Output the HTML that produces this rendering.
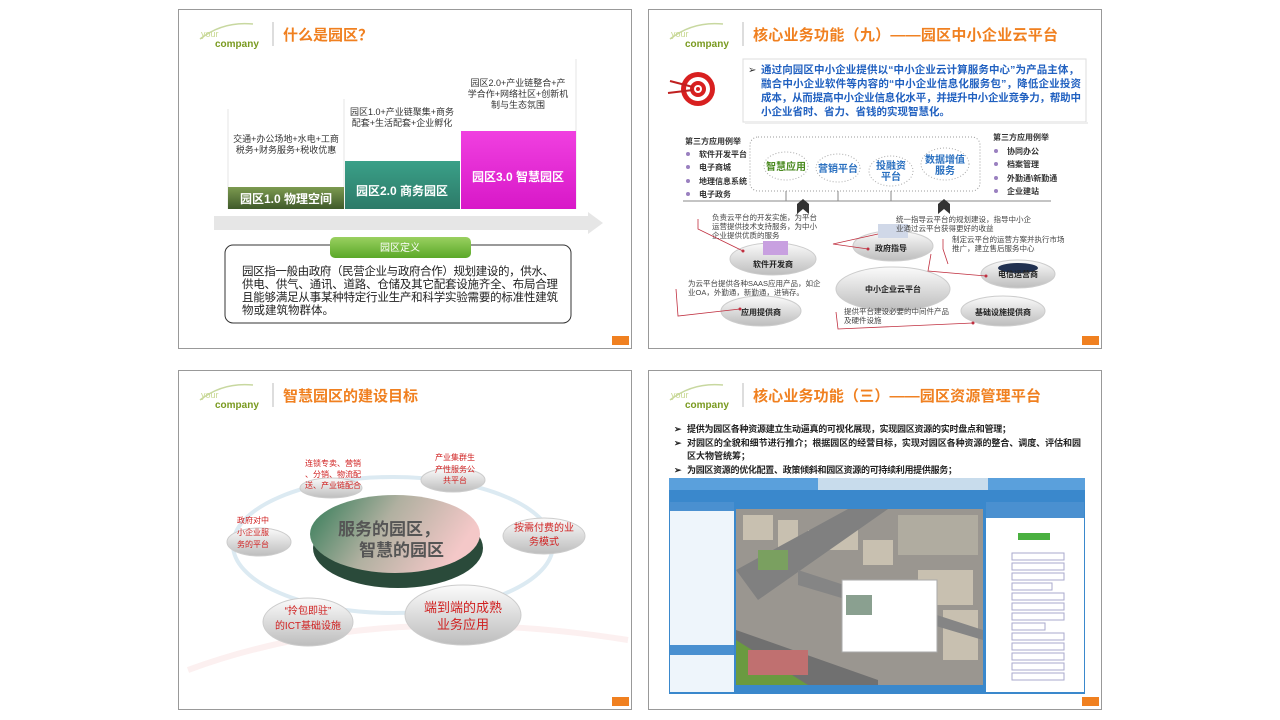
<!DOCTYPE html>
<html><head><meta charset="utf-8"><style>
html,body{margin:0;padding:0;background:#fff;width:1280px;height:720px;overflow:hidden}
svg{display:block}
text{font-family:"Liberation Sans","Noto Sans CJK SC",sans-serif}
</style></head><body>
<svg width="1280" height="720" viewBox="0 0 1280 720" xmlns="http://www.w3.org/2000/svg">
<defs>
<linearGradient id="g1" x1="0" y1="0" x2="0" y2="1"><stop offset="0" stop-color="#7c9a50"/><stop offset="1" stop-color="#3f5a2a"/></linearGradient>
<linearGradient id="g2" x1="0" y1="0" x2="0" y2="1"><stop offset="0" stop-color="#3aa088"/><stop offset="1" stop-color="#2d7a68"/></linearGradient>
<linearGradient id="g3" x1="0" y1="0" x2="0" y2="1"><stop offset="0" stop-color="#f040e0"/><stop offset="1" stop-color="#d818c8"/></linearGradient>
<linearGradient id="gt" x1="0" y1="0" x2="0" y2="1"><stop offset="0" stop-color="#9ad060"/><stop offset="1" stop-color="#5aa828"/></linearGradient>
<linearGradient id="ge" x1="0" y1="0" x2="0" y2="1"><stop offset="0" stop-color="#fbfbfb"/><stop offset="1" stop-color="#bdbdbd"/></linearGradient>
<linearGradient id="gc" x1="0" y1="0" x2="1" y2="0.3"><stop offset="0" stop-color="#2f7a55"/><stop offset="0.5" stop-color="#b0b0a0"/><stop offset="1" stop-color="#f4c8c8"/></linearGradient>
<g id="logo"><path d="M22 30 Q45 12 75 15" stroke="#c8d8a0" stroke-width="1.5" fill="none"/><text x="23" y="28" font-size="9" fill="#c8d890">your</text><text x="37" y="38" font-size="10" font-weight="bold" fill="#7a9a20">company</text><line x1="95" y1="13" x2="95" y2="37" stroke="#bbb"/></g>
</defs>

<!-- Slide 1 -->
<g transform="translate(178,9)">
<rect x="0.5" y="0.5" width="453" height="339" fill="#fff" stroke="#999"/>
<use href="#logo"/>
<text x="105" y="31" font-size="15" font-weight="bold" fill="#f08020">什么是园区？</text>
<line x1="50" y1="100" x2="50" y2="200" stroke="#e4e4e4"/><line x1="166" y1="90" x2="166" y2="200" stroke="#e4e4e4"/><line x1="398" y1="50" x2="398" y2="200" stroke="#e4e4e4"/>
<text x="108" y="133" font-size="9" fill="#333" text-anchor="middle">交通+办公场地+水电+工商</text>
<text x="108" y="144" font-size="9" fill="#333" text-anchor="middle">税务+财务服务+税收优惠</text>
<text x="224" y="106" font-size="9" fill="#333" text-anchor="middle">园区1.0+产业链聚集+商务</text>
<text x="224" y="117" font-size="9" fill="#333" text-anchor="middle">配套+生活配套+企业孵化</text>
<text x="340" y="77" font-size="9" fill="#333" text-anchor="middle">园区2.0+产业链整合+产</text>
<text x="340" y="88" font-size="9" fill="#333" text-anchor="middle">学合作+网络社区+创新机</text>
<text x="340" y="99" font-size="9" fill="#333" text-anchor="middle">制与生态氛围</text>
<rect x="50" y="178" width="116" height="22" fill="url(#g1)"/>
<rect x="167" y="152" width="115" height="48" fill="url(#g2)"/>
<rect x="283" y="122" width="115" height="78" fill="url(#g3)"/>
<text x="108" y="194" font-size="12" font-weight="bold" fill="#fff" text-anchor="middle">园区1.0 物理空间</text>
<text x="224" y="186" font-size="12" font-weight="bold" fill="#fff" text-anchor="middle">园区2.0 商务园区</text>
<text x="340" y="172" font-size="12" font-weight="bold" fill="#fff" text-anchor="middle">园区3.0 智慧园区</text>
<polygon points="36,207 410,207 410,203 425,214 410,225 410,221 36,221" fill="#e6e6e6"/>
<rect x="47" y="236" width="346" height="78" rx="8" fill="#fff" stroke="#333"/>
<rect x="152" y="228" width="141" height="21" rx="5" fill="url(#gt)"/>
<text x="222" y="242" font-size="10" fill="#fff" text-anchor="middle">园区定义</text>
<text x="64" y="266" font-size="11.5" fill="#222" textLength="312">园区指一般由政府（民营企业与政府合作）规划建设的，供水、</text>
<text x="64" y="279" font-size="11.5" fill="#222" textLength="316">供电、供气、通讯、道路、仓储及其它配套设施齐全、布局合理</text>
<text x="64" y="292" font-size="11.5" fill="#222" textLength="316">且能够满足从事某种特定行业生产和科学实验需要的标准性建筑</text>
<text x="64" y="305" font-size="11.5" fill="#222">物或建筑物群体。</text>
<rect x="434" y="327" width="17" height="9" fill="#f08020"/>
</g>

<!-- Slide 2 -->
<g transform="translate(648,9)">
<rect x="0.5" y="0.5" width="453" height="339" fill="#fff" stroke="#999"/>
<use href="#logo"/>
<text x="105" y="31" font-size="15" font-weight="bold" fill="#f08020" textLength="305">核心业务功能（九）——园区中小企业云平台</text>
<circle cx="50" cy="80" r="17" fill="#d82020"/><circle cx="50" cy="80" r="12" fill="#fff"/><circle cx="50" cy="80" r="8" fill="#d82020"/><circle cx="50" cy="80" r="4" fill="#fff"/><circle cx="50" cy="80" r="2" fill="#d82020"/>
<line x1="22" y1="72" x2="45" y2="78" stroke="#c02020" stroke-width="2"/><line x1="20" y1="84" x2="45" y2="81" stroke="#c02020" stroke-width="2"/>
<rect x="95" y="50" width="343" height="63" fill="#fff" stroke="#ddd"/>
<rect x="97" y="113" width="343" height="2" fill="#eee"/>
<text x="100" y="64" font-size="10" fill="#333">➢</text>
<g font-size="10.5" font-weight="bold" fill="#2060c0">
<text x="113" y="64" textLength="318">通过向园区中小企业提供以“中小企业云计算服务中心”为产品主体，</text>
<text x="113" y="78" textLength="320">融合中小企业软件等内容的“中小企业信息化服务包”，降低企业投资</text>
<text x="113" y="92" textLength="320">成本，从而提高中小企业信息化水平，并提升中小企业竞争力，帮助中</text>
<text x="113" y="106">小企业省时、省力、省钱的实现智慧化。</text>
</g>
<g font-size="8" font-weight="bold" fill="#333">
<text x="37" y="135">第三方应用例举</text>
<text x="51" y="148">软件开发平台</text><text x="51" y="161">电子商城</text><text x="51" y="175">地理信息系统</text><text x="51" y="188">电子政务</text>
<text x="345" y="131">第三方应用例举</text>
<text x="359" y="145">协同办公</text><text x="359" y="158">档案管理</text><text x="359" y="172">外勤通\新勤通</text><text x="359" y="185">企业建站</text>
</g>
<g fill="#9a80c0"><circle cx="40" cy="145" r="2"/><circle cx="40" cy="158" r="2"/><circle cx="40" cy="172" r="2"/><circle cx="40" cy="185" r="2"/><circle cx="348" cy="142" r="2"/><circle cx="348" cy="155" r="2"/><circle cx="348" cy="169" r="2"/><circle cx="348" cy="182" r="2"/></g>
<rect x="102" y="128" width="230" height="54" rx="8" fill="none" stroke="#999" stroke-dasharray="1,2"/>
<g fill="none" stroke="#aaa" stroke-dasharray="1,2"><ellipse cx="138" cy="157" rx="22" ry="14"/><ellipse cx="190" cy="159" rx="22" ry="14"/><ellipse cx="243" cy="162" rx="22" ry="15"/><ellipse cx="297" cy="155" rx="24" ry="16"/></g>
<g font-size="10" font-weight="bold" text-anchor="middle">
<text x="138" y="161" fill="#4a8a20">智慧应用</text>
<text x="190" y="163" fill="#2a70c0">营销平台</text>
<text x="243" y="160" fill="#2a70c0">投融资</text><text x="243" y="171" fill="#2a70c0">平台</text>
<text x="297" y="154" fill="#2a70c0">数据增值</text><text x="297" y="165" fill="#2a70c0">服务</text>
</g>
<line x1="35" y1="192" x2="403" y2="192" stroke="#888"/>
<g stroke="#888"><line x1="138" y1="182" x2="138" y2="192"/><line x1="190" y1="182" x2="190" y2="192"/><line x1="243" y1="182" x2="243" y2="192"/></g>
<polygon points="149,205 149,195 155,190 161,195 161,205 155,200" fill="#333"/>
<polygon points="290,205 290,195 296,190 302,195 302,205 296,200" fill="#333"/>
<g fill="url(#ge)" stroke="#ccc">
<ellipse cx="125" cy="250" rx="43" ry="16"/><ellipse cx="245" cy="237" rx="40" ry="15"/><ellipse cx="370" cy="265" rx="37" ry="14"/>
<ellipse cx="245" cy="280" rx="57" ry="22"/><ellipse cx="113" cy="302" rx="40" ry="15"/><ellipse cx="355" cy="302" rx="42" ry="15"/>
</g>
<rect x="230" y="215" width="30" height="14" fill="#d0d8e8"/><rect x="115" y="232" width="25" height="14" fill="#c8a0e0"/><ellipse cx="370" cy="259" rx="20" ry="5" fill="#203050"/>
<g font-size="7.5" fill="#444">
<text x="64" y="211">负责云平台的开发实施，为平台</text><text x="64" y="220">运营提供技术支持服务，为中小</text><text x="64" y="229">企业提供优质的服务</text>
<text x="248" y="213">统一指导云平台的规划建设，指导中小企</text><text x="248" y="222">业通过云平台获得更好的收益</text>
<text x="304" y="233">制定云平台的运营方案并执行市场</text><text x="304" y="242">推广，建立售后服务中心</text>
<text x="40" y="277">为云平台提供各种SAAS应用产品，如企</text><text x="40" y="286">业OA，外勤通，新勤通，进销存。</text>
<text x="196" y="305">提供平台建设必要的中间件产品</text><text x="196" y="314">及硬件设施</text>
</g>
<g font-size="8" font-weight="bold" fill="#222" text-anchor="middle">
<text x="125" y="258">软件开发商</text><text x="243" y="242">政府指导</text><text x="245" y="283">中小企业云平台</text><text x="370" y="268">电信运营商</text><text x="355" y="306">基础设施提供商</text><text x="113" y="306">应用提供商</text>
</g>
<g fill="none" stroke="#c03040" stroke-width="0.8">
<polyline points="95,242 50,220 50,210"/><polyline points="92,300 30,307 28,280"/><polyline points="220,240 185,235 230,225"/>
<polyline points="300,255 295,240 295,230"/><polyline points="338,267 280,262 283,245"/><polyline points="325,314 190,320 188,303"/>
</g>
<g fill="#c03040"><circle cx="95" cy="242" r="1.5"/><circle cx="92" cy="300" r="1.5"/><circle cx="220" cy="240" r="1.5"/><circle cx="338" cy="267" r="1.5"/><circle cx="325" cy="314" r="1.5"/></g>
<rect x="434" y="327" width="17" height="9" fill="#f08020"/>
</g>

<!-- Slide 3 -->
<g transform="translate(178,370)">
<rect x="0.5" y="0.5" width="453" height="339" fill="#fff" stroke="#999"/>
<use href="#logo"/>
<text x="105" y="31" font-size="15" font-weight="bold" fill="#f08020">智慧园区的建设目标</text>
<path d="M10 300 Q200 230 450 270" stroke="#fcf0f0" stroke-width="6" fill="none"/>
<ellipse cx="215" cy="175" rx="160" ry="68" fill="none" stroke="#dceaf2" stroke-width="4"/>
<g fill="url(#ge)" stroke="#ccc">
<ellipse cx="153" cy="118" rx="31" ry="10"/><ellipse cx="275" cy="110" rx="32" ry="12"/><ellipse cx="81" cy="172" rx="32" ry="14"/>
<ellipse cx="366" cy="166" rx="41" ry="18"/><ellipse cx="130" cy="252" rx="45" ry="24"/><ellipse cx="285" cy="245" rx="58" ry="30"/>
</g>
<ellipse cx="220" cy="178" rx="85" ry="40" fill="#2a4a3a"/>
<ellipse cx="217" cy="164" rx="85" ry="39" fill="url(#gc)"/>
<text x="160" y="165" font-size="17" font-weight="bold" fill="#555">服务的园区，</text>
<text x="181" y="186" font-size="17" font-weight="bold" fill="#555">智慧的园区</text>
<g fill="#d02020" text-anchor="middle">
<g font-size="8"><text x="155" y="96">连锁专卖、营销</text><text x="155" y="107">、分销、物流配</text><text x="155" y="118">送、产业链配合</text>
<text x="277" y="90">产业集群生</text><text x="277" y="102">产性服务公</text><text x="277" y="113">共平台</text>
<text x="75" y="153">政府对中</text><text x="75" y="165">小企业服</text><text x="75" y="177">务的平台</text></g>
<g font-size="10"><text x="366" y="161">按需付费的业</text><text x="366" y="175">务模式</text>
<text x="130" y="244">“拎包即驻”</text><text x="130" y="259">的ICT基础设施</text></g>
<g font-size="13"><text x="285" y="242">端到端的成熟</text><text x="285" y="259">业务应用</text></g>
</g>
<rect x="434" y="327" width="17" height="9" fill="#f08020"/>
</g>

<!-- Slide 4 -->
<g transform="translate(648,370)">
<rect x="0.5" y="0.5" width="453" height="339" fill="#fff" stroke="#999"/>
<use href="#logo"/>
<text x="105" y="31" font-size="15" font-weight="bold" fill="#f08020" textLength="288">核心业务功能（三）——园区资源管理平台</text>
<g font-size="9" font-weight="bold" fill="#222">
<text x="26" y="62">➢</text><text x="26" y="76">➢</text><text x="26" y="103">➢</text>
<text x="39" y="62" textLength="324">提供为园区各种资源建立生动逼真的可视化展现，实现园区资源的实时盘点和管理；</text>
<text x="39" y="76" textLength="394">对园区的全貌和细节进行推介；根据园区的经营目标，实现对园区各种资源的整合、调度、评估和园</text>
<text x="39" y="89">区大物管统筹；</text>
<text x="39" y="103" textLength="270">为园区资源的优化配置、政策倾斜和园区资源的可持续利用提供服务；</text>
</g>
<rect x="21" y="108" width="416" height="216" fill="#3a88cc"/>
<rect x="21" y="108" width="416" height="12" fill="#5aa0dc"/>
<rect x="170" y="108" width="170" height="12" fill="#c8dcec"/>
<rect x="22" y="132" width="64" height="190" fill="#eef5fb"/>
<rect x="22" y="132" width="64" height="9" fill="#4a90d0"/>
<rect x="22" y="275" width="64" height="10" fill="#4a90d0"/>
<rect x="88" y="139" width="247" height="176" fill="#9a9690"/>
<g fill="#c8c0b0"><rect x="95" y="145" width="30" height="25"/><rect x="130" y="150" width="20" height="40"/><rect x="160" y="160" width="50" height="20"/><rect x="270" y="200" width="55" height="35"/><rect x="295" y="240" width="35" height="50"/><rect x="215" y="170" width="30" height="25"/></g>
<path d="M88 200 L200 139 L240 139 L110 230 Z" fill="#808080"/>
<path d="M88 260 L230 310 L230 315 L88 315 Z" fill="#707070"/>
<path d="M88 270 L160 315 L88 315 Z" fill="#6a9a40"/>
<rect x="110" y="180" width="30" height="20" fill="#7aa060"/>
<path d="M150 200 L335 260 L335 270 L150 215 Z" fill="#858585"/>
<rect x="250" y="145" width="80" height="40" fill="#b0aca0"/>
<rect x="100" y="280" width="60" height="25" fill="#c07070"/>
<rect x="194" y="210" width="95" height="72" fill="#fff" stroke="#aaa"/>
<rect x="198" y="225" width="26" height="20" fill="#8aa090"/>
<rect x="338" y="132" width="98" height="190" fill="#fff"/>
<rect x="338" y="132" width="98" height="16" fill="#4a90d0"/>
<rect x="370" y="163" width="32" height="7" fill="#4ab040"/>
<g fill="none" stroke="#aac"><rect x="364" y="183" width="52" height="7"/><rect x="364" y="193" width="52" height="7"/><rect x="364" y="203" width="52" height="7"/><rect x="364" y="213" width="40" height="7"/><rect x="364" y="223" width="52" height="7"/><rect x="364" y="233" width="52" height="7"/><rect x="364" y="243" width="52" height="7"/><rect x="364" y="253" width="33" height="7"/><rect x="364" y="263" width="52" height="7"/><rect x="364" y="273" width="52" height="7"/><rect x="364" y="283" width="52" height="7"/><rect x="364" y="293" width="52" height="7"/><rect x="364" y="303" width="52" height="7"/></g>
<rect x="434" y="327" width="17" height="9" fill="#f08020"/>
</g>
</svg>
</body></html>
